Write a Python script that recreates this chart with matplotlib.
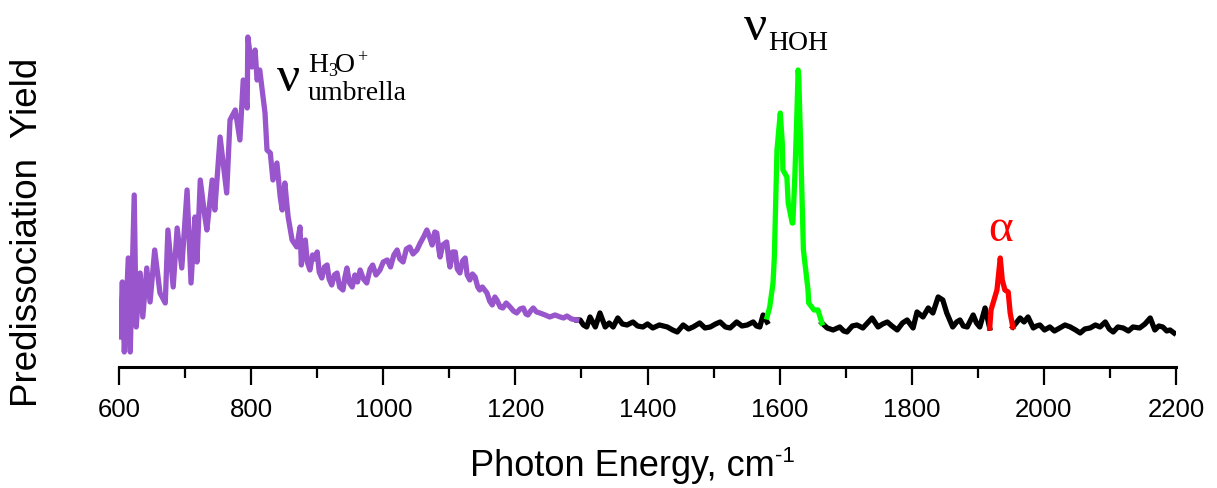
import matplotlib.pyplot as plt
from matplotlib.ticker import MultipleLocator

# Spectrum (photon energy in cm-1, yield in arb. units)
umbrella_x = [602, 605, 608, 614, 617, 623, 626, 632, 636, 642, 647, 654, 662, 670,
              674, 682, 688, 695, 703, 709, 715, 718, 723, 730, 733, 741, 745, 753,
              763, 768, 776, 783, 788, 794, 795, 801, 806, 809, 813, 821, 824, 829,
              833, 839, 844, 847, 851, 856, 862, 869, 874, 876, 879, 882, 885, 889,
              893, 896, 900, 903, 907, 911, 915, 918, 922, 926, 930, 934, 939, 942,
              945, 949, 953, 957, 961, 965, 970, 975, 980, 984, 989, 995, 1000, 1006,
              1011, 1016, 1021, 1025, 1030, 1035, 1040, 1045, 1051, 1056, 1061, 1066,
              1070, 1074, 1078, 1081, 1084, 1086, 1090, 1096, 1099, 1101, 1105, 1109,
              1112, 1116, 1120, 1124, 1127, 1131, 1135, 1139, 1143, 1146, 1150, 1157,
              1161, 1165, 1169, 1172, 1177, 1181, 1186, 1192, 1197, 1202, 1207, 1212,
              1216, 1219, 1223, 1227, 1232, 1237, 1245, 1252, 1260, 1268, 1273, 1278,
              1285, 1293]
umbrella_y = [0.30, 0.85, 0.15, 1.09, 0.15, 1.72, 0.40, 0.94, 0.50, 0.99, 0.65, 1.17,
              0.74, 0.64, 1.37, 0.80, 1.39, 0.99, 1.77, 0.84, 1.50, 1.05, 1.87, 1.50,
              1.37, 1.87, 1.57, 2.30, 1.74, 2.47, 2.57, 2.27, 2.87, 2.59, 3.30, 3.00,
              3.17, 2.87, 2.97, 2.54, 2.17, 2.14, 1.87, 2.04, 1.70, 1.57, 1.84, 1.50,
              1.27, 1.20, 1.40, 1.02, 1.20, 1.27, 1.05, 0.97, 1.12, 1.08, 1.15, 0.95,
              0.89, 1.00, 1.02, 0.88, 0.82, 0.92, 0.94, 0.80, 0.77, 0.90, 0.99, 0.84,
              0.80, 0.92, 0.85, 0.97, 0.88, 0.84, 0.98, 1.02, 0.92, 0.97, 1.05, 1.07,
              1.00, 1.12, 1.17, 1.08, 1.05, 1.18, 1.20, 1.13, 1.17, 1.24, 1.30, 1.37,
              1.30, 1.22, 1.35, 1.34, 1.18, 1.10, 1.22, 1.25, 1.08, 1.00, 1.15, 1.15,
              0.98, 0.94, 1.06, 1.09, 0.92, 0.87, 0.93, 0.90, 0.80, 0.77, 0.80, 0.74,
              0.66, 0.62, 0.70, 0.67, 0.60, 0.59, 0.64, 0.60, 0.56, 0.54, 0.58, 0.59,
              0.53, 0.52, 0.56, 0.59, 0.55, 0.54, 0.52, 0.50, 0.52, 0.50, 0.49, 0.51,
              0.48, 0.47]

base1_x = [1293, 1298, 1303, 1308, 1313, 1321, 1328, 1336, 1342, 1348, 1355, 1362,
           1369, 1378, 1385, 1393, 1400, 1408, 1418, 1430, 1438, 1445, 1454, 1462,
           1469, 1479, 1487, 1495, 1503, 1510, 1518, 1525, 1535, 1543, 1551, 1560,
           1565, 1570, 1575, 1581]
base1_y = [0.47, 0.47, 0.42, 0.40, 0.50, 0.40, 0.54, 0.40, 0.44, 0.40, 0.49, 0.43,
           0.42, 0.45, 0.41, 0.40, 0.43, 0.39, 0.42, 0.40, 0.37, 0.35, 0.42, 0.38,
           0.40, 0.44, 0.39, 0.40, 0.43, 0.45, 0.40, 0.39, 0.45, 0.41, 0.42, 0.45,
           0.41, 0.40, 0.52, 0.45]

hoh_x = [1581, 1585, 1590, 1592, 1596, 1601, 1604, 1605, 1611, 1613, 1619, 1620,
         1623, 1626, 1628, 1629, 1632, 1636, 1643, 1644, 1652, 1658, 1664]
hoh_y = [0.50, 0.60, 0.84, 1.10, 2.17, 2.54, 2.24, 1.97, 1.90, 1.64, 1.44, 1.44,
         1.90, 2.50, 2.97, 2.90, 2.17, 1.17, 0.77, 0.64, 0.57, 0.57, 0.44]

base2_x = [1664, 1672, 1681, 1691, 1697, 1702, 1710, 1717, 1726, 1733, 1740, 1749,
           1756, 1763, 1770, 1778, 1786, 1793, 1802, 1808, 1817, 1825, 1832, 1840,
           1847, 1853, 1862, 1868, 1873, 1878, 1884, 1893, 1898, 1903, 1911, 1918]
base2_y = [0.44, 0.39, 0.37, 0.40, 0.36, 0.35, 0.41, 0.42, 0.39, 0.44, 0.49, 0.40,
           0.43, 0.45, 0.41, 0.37, 0.44, 0.47, 0.39, 0.55, 0.50, 0.59, 0.54, 0.70,
           0.67, 0.54, 0.40, 0.45, 0.47, 0.41, 0.40, 0.52, 0.44, 0.40, 0.59, 0.39]

alpha_x = [1918, 1920, 1929, 1934, 1937, 1941, 1946, 1949, 1953]
alpha_y = [0.39, 0.57, 0.77, 1.09, 0.87, 0.77, 0.75, 0.54, 0.40]

base3_x = [1953, 1958, 1964, 1970, 1976, 1984, 1989, 1994, 2001, 2009, 2016, 2024,
           2032, 2040, 2048, 2055, 2062, 2070, 2078, 2085, 2093, 2099, 2105, 2112,
           2120, 2128, 2135, 2145, 2153, 2161, 2168, 2174, 2180, 2186, 2191, 2197]
base3_y = [0.40, 0.44, 0.49, 0.45, 0.50, 0.39, 0.41, 0.42, 0.37, 0.40, 0.36, 0.39,
           0.42, 0.40, 0.37, 0.34, 0.38, 0.39, 0.42, 0.40, 0.45, 0.38, 0.35, 0.40,
           0.39, 0.36, 0.40, 0.39, 0.43, 0.49, 0.37, 0.41, 0.40, 0.36, 0.37, 0.34]

xticks = [600, 800, 1000, 1200, 1400, 1600, 1800, 2000, 2200]

fig = plt.figure(figsize=(12.17, 4.88), dpi=100)
ax = fig.add_axes([0.0978, 0.248, 0.8685, 0.711])

lw = 3.8
ax.plot(base1_x, base1_y, color="black", lw=lw, solid_joinstyle="round")
ax.plot(base2_x, base2_y, color="black", lw=lw, solid_joinstyle="round")
ax.plot(base3_x, base3_y, color="black", lw=lw, solid_joinstyle="round")
ax.plot(umbrella_x, umbrella_y, color="#9955CC", lw=lw, solid_joinstyle="round")
ax.plot(hoh_x, hoh_y, color="#00FF00", lw=lw, solid_joinstyle="round")
ax.plot(alpha_x, alpha_y, color="#FF0000", lw=lw, solid_joinstyle="round")

ax.set_xlim(600, 2200)
ax.set_ylim(0, 3.47)
for s in ["left", "right", "top"]:
    ax.spines[s].set_visible(False)
ax.spines["bottom"].set_linewidth(2.2)
ax.set_yticks([])
ax.set_xticks(xticks)
ax.set_xticklabels([str(t) for t in xticks], family="Liberation Sans", fontsize=18.5)
ax.xaxis.set_minor_locator(MultipleLocator(100))
ax.tick_params(axis="x", which="major", direction="out", length=13, width=1.6, pad=9)
ax.tick_params(axis="x", which="minor", direction="out", length=8, width=1.6)

# axis labels
xl = fig.text(0.511, 0.025, "Photon Energy, cm", family="Liberation Sans", fontsize=26,
              ha="center", va="baseline")
fig.canvas.draw()
bb = xl.get_window_extent().transformed(fig.transFigure.inverted())
fig.text(bb.x1 + 0.001, 0.053, "-1", family="Liberation Sans", fontsize=16, va="baseline")
fig.text(0.023, 0.523, "Predissociation  Yield", family="Liberation Sans", fontsize=26.5,
         rotation=90, ha="center", va="center")

# peak labels
serif = "Liberation Serif"
ax.text(857, 2.76, "ν", family=serif, fontsize=37, ha="center", va="baseline")
ax.text(886, 2.95, "H", family=serif, fontsize=20, va="baseline")
ax.text(917, 2.91, "3", family=serif, fontsize=13, va="baseline")
ax.text(927, 2.95, "O", family=serif, fontsize=20, va="baseline")
ax.text(961, 3.05, "+", family=serif, fontsize=13, va="baseline")
ax.text(886, 2.67, "umbrella", family=serif, fontsize=20, va="baseline")
ax.text(1564, 3.27, "ν", family=serif, fontsize=37, ha="center", va="baseline")
ax.text(1582, 3.17, "HOH", family=serif, fontsize=20, va="baseline")
ax.text(1934, 1.26, "α", family=serif, fontsize=34, color="#FF0000",
        ha="center", va="baseline")

fig.savefig("out.png", dpi=100)
